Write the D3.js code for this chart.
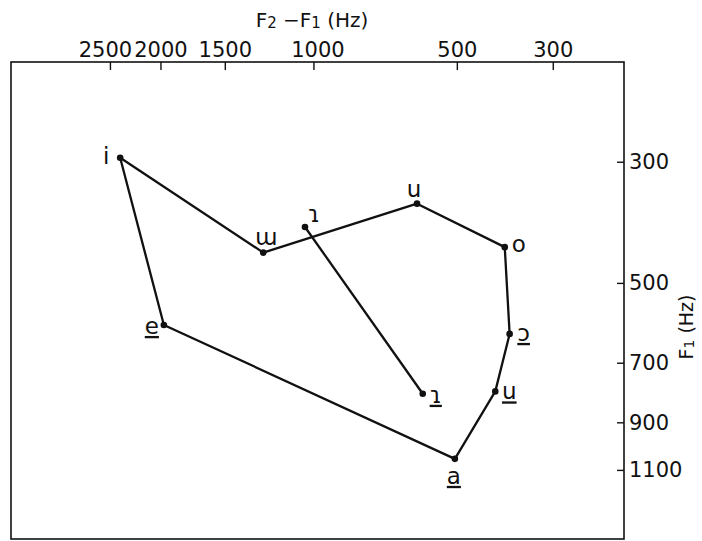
<!DOCTYPE html>
<html>
<head>
<meta charset="utf-8">
<script src="https://cdn.jsdelivr.net/npm/d3@7"></script>
<style>
  body { margin: 0; background: #fff; }
  svg text { font-family: "DejaVu Sans", sans-serif; fill: #111; }
</style>
</head>
<body>
<svg id="chart"></svg>
<script>
// vowel chart: F2-F1 on top (reversed), F1 on right (reversed log)

const vowelLabels = ["i", "ɯ", "u", "o", "ɔ", "u", "a", "e", "ɿ", "ɿ"];
const underlined  = [false, false, false, false, true, true, true, true, false, true];
const f2MinusF1   = [2390, 1260, 610, 390, 380, 410, 505, 1970, 1040, 593];
const f1Values    = [295, 440, 358, 430, 620, 790, 1050, 597, 395, 798];
// which points are joined
const outlineOrder = [0, 1, 2, 3, 4, 5, 6, 7, 0];
const apicalOrder  = [8, 9];

const xTicks = [2500, 2000, 1500, 1000, 500, 300];
const yTicks = [300, 500, 700, 900, 1100];

// label placement next to each point (dx, baseline dy)
const labelOffset = [[-14, 6], [3, -8], [-3, -7], [14, 5], [14, 7], [14, 8], [-1, 25], [-12, 9], [9, -5], [13, 9]];
// small nudges so crowded top labels don't collide
const xTickNudge = {2500: -5, 1000: 4};

const W = 702, H = 541;
const frame = {left: 11, right: 624, top: 62, bottom: 539};

const svg = d3.select("#chart")
    .attr("width", W)
    .attr("height", H);

// F2-F1 axis is logarithmic in (f + 100)
const xScale = d3.scaleSymlog()
    .constant(100)
    .domain([3850, 196])
    .range([frame.left, frame.right]);

const yScale = d3.scaleLog()
    .domain([197, 1472])
    .range([frame.top, frame.bottom]);

const points = f2MinusF1.map((f, i) => ({
    x: xScale(f),
    y: yScale(f1Values[i]),
    label: vowelLabels[i],
    under: underlined[i],
    off: labelOffset[i]
}));

// frame
svg.append("rect")
    .attr("x", frame.left)
    .attr("y", frame.top)
    .attr("width", frame.right - frame.left)
    .attr("height", frame.bottom - frame.top)
    .attr("fill", "none")
    .attr("stroke", "#111")
    .attr("stroke-width", 1.6);

// top axis, ticks pointing into the plot
const xAxis = d3.axisTop(xScale)
    .tickValues(xTicks)
    .tickSize(-8)
    .tickPadding(5)
    .tickFormat(d => d);

svg.append("g")
    .attr("transform", `translate(0, ${frame.top})`)
    .call(xAxis)
    .call(g => g.select(".domain").remove())
    .call(g => g.selectAll(".tick line").attr("stroke", "#111").attr("stroke-width", 1.4))
    .call(g => g.selectAll(".tick text")
        .attr("font-size", "21px")
        .attr("dx", d => xTickNudge[d] || 0)
        .attr("font-family", "DejaVu Sans, sans-serif")
        .attr("fill", "#111"));

// right axis
const yAxis = d3.axisRight(yScale)
    .tickValues(yTicks)
    .tickSize(-7)
    .tickPadding(5)
    .tickFormat(d => d);

svg.append("g")
    .attr("transform", `translate(${frame.right}, 0)`)
    .call(yAxis)
    .call(g => g.select(".domain").remove())
    .call(g => g.selectAll(".tick line").attr("stroke", "#111").attr("stroke-width", 1.4))
    .call(g => g.selectAll(".tick text")
        .attr("font-size", "21px")
        .attr("font-family", "DejaVu Sans, sans-serif")
        .attr("fill", "#111"));

// axis titles
const xTitle = svg.append("text")
    .attr("x", 312)
    .attr("y", 27)
    .attr("text-anchor", "middle")
    .attr("font-size", "20px");
xTitle.append("tspan").text("F");
xTitle.append("tspan").attr("font-size", "15px").attr("dy", 1).text("2");
xTitle.append("tspan").attr("dy", -1).text(" −F");
xTitle.append("tspan").attr("font-size", "15px").attr("dy", 1).text("1");
xTitle.append("tspan").attr("dy", -1).text("  (Hz)");

const yTitle = svg.append("text")
    .attr("transform", "translate(693, 327) rotate(-90)")
    .attr("text-anchor", "middle")
    .attr("font-size", "19px");
yTitle.append("tspan").text("F");
yTitle.append("tspan").attr("font-size", "14px").attr("dy", 1).text("1");
yTitle.append("tspan").attr("dy", -1).text("  (Hz)");

// lines
const lineFun = d3.line()
    .x(i => points[i].x)
    .y(i => points[i].y);

svg.append("path")
    .attr("d", lineFun(outlineOrder))
    .attr("fill", "none")
    .attr("stroke", "#111")
    .attr("stroke-width", 2.3)
    .attr("stroke-linejoin", "round");

svg.append("path")
    .attr("d", lineFun(apicalOrder))
    .attr("fill", "none")
    .attr("stroke", "#111")
    .attr("stroke-width", 2.3);

// points
svg.selectAll("circle.pt")
    .data(points)
    .enter()
    .append("circle")
    .attr("class", "pt")
    .attr("cx", d => d.x)
    .attr("cy", d => d.y)
    .attr("r", 3.3)
    .attr("fill", "#111");

// vowel labels
svg.selectAll("text.vowel")
    .data(points)
    .enter()
    .append("text")
    .attr("class", "vowel")
    .attr("x", d => d.x + d.off[0])
    .attr("y", d => d.y + d.off[1])
    .attr("text-anchor", "middle")
    .attr("font-size", "23px")
    .attr("text-decoration", d => d.under ? "underline" : null)
    .text(d => d.label);
</script>
</body>
</html>
